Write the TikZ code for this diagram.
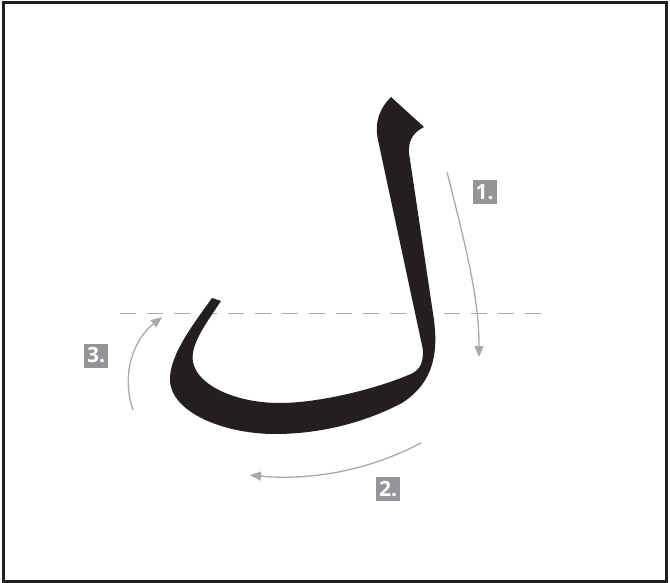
\documentclass[tikz,border=0pt]{standalone}
\usepackage{fontspec}
\newfontfamily\lblfont{Open Sans}
\usetikzlibrary{arrows.meta}
\definecolor{ink}{HTML}{231F20}
\definecolor{arrowgray}{HTML}{A7A9AC}
\definecolor{boxgray}{HTML}{939598}
\tikzset{
  guide/.style={draw=arrowgray, line width=1.3pt, -{Triangle[length=11pt,width=9pt]}},
  numbox/.style={fill=boxgray, minimum width=24pt, minimum height=24pt, inner sep=0pt,
    text=white, font=\lblfont\bfseries\fontsize{21}{21}\selectfont},
  baseline/.style={draw=arrowgray, line width=1pt, dash pattern=on 16pt off 11pt}
}
\begin{document}
\begin{tikzpicture}[x=1pt,y=-1pt]
\useasboundingbox (0,0) rectangle (670,583);
\draw[ink, line width=3pt] (3.5,3) rectangle (666,581);
% baseline
\coordinate (bl1) at (120,313);
\coordinate (bl2) at (548,313);
\draw[baseline] (bl1) -- (bl2);
% glyph lam
\fill[ink] (391,97) -- (424,127)
  .. controls (414,132) and (408,140) .. (409,153)
  -- (434,320)
  .. controls (437,345) and (438,380) .. (402,403)
  .. controls (360,425) and (315,434) .. (275,434)
  .. controls (225,434) and (171,413) .. (170,380)
  .. controls (169,355) and (195,322) .. (212,298)
  -- (221,301)
  .. controls (205,325) and (190,345) .. (193,362)
  .. controls (197,385) and (235,403) .. (280,403)
  .. controls (320,403) and (380,388) .. (413,373)
  .. controls (421,368) and (423,362) .. (423,350)
  -- (378,140)
  .. controls (374,122) and (380,108) .. (391,97) -- cycle;
% arrows
\coordinate (a1s) at (447,172);
\coordinate (a1e) at (479,357);
\coordinate (a2s) at (421,443);
\coordinate (a2e) at (250,475);
\coordinate (a3s) at (133,410);
\coordinate (a3e) at (162,317);
\draw[guide] (a1s) .. controls (468,255) and (479,300) .. (a1e);
\draw[guide] (a2s) .. controls (360,475) and (300,480) .. (a2e);
\draw[guide] (a3s) .. controls (121,375) and (133,340) .. (a3e);
% labels
\node[numbox] (n1) at (484.5,192.5) {1.};
\node[numbox] (n2) at (388,489) {2.};
\node[numbox] (n3) at (96,355.5) {3.};
\end{tikzpicture}
\end{document}
